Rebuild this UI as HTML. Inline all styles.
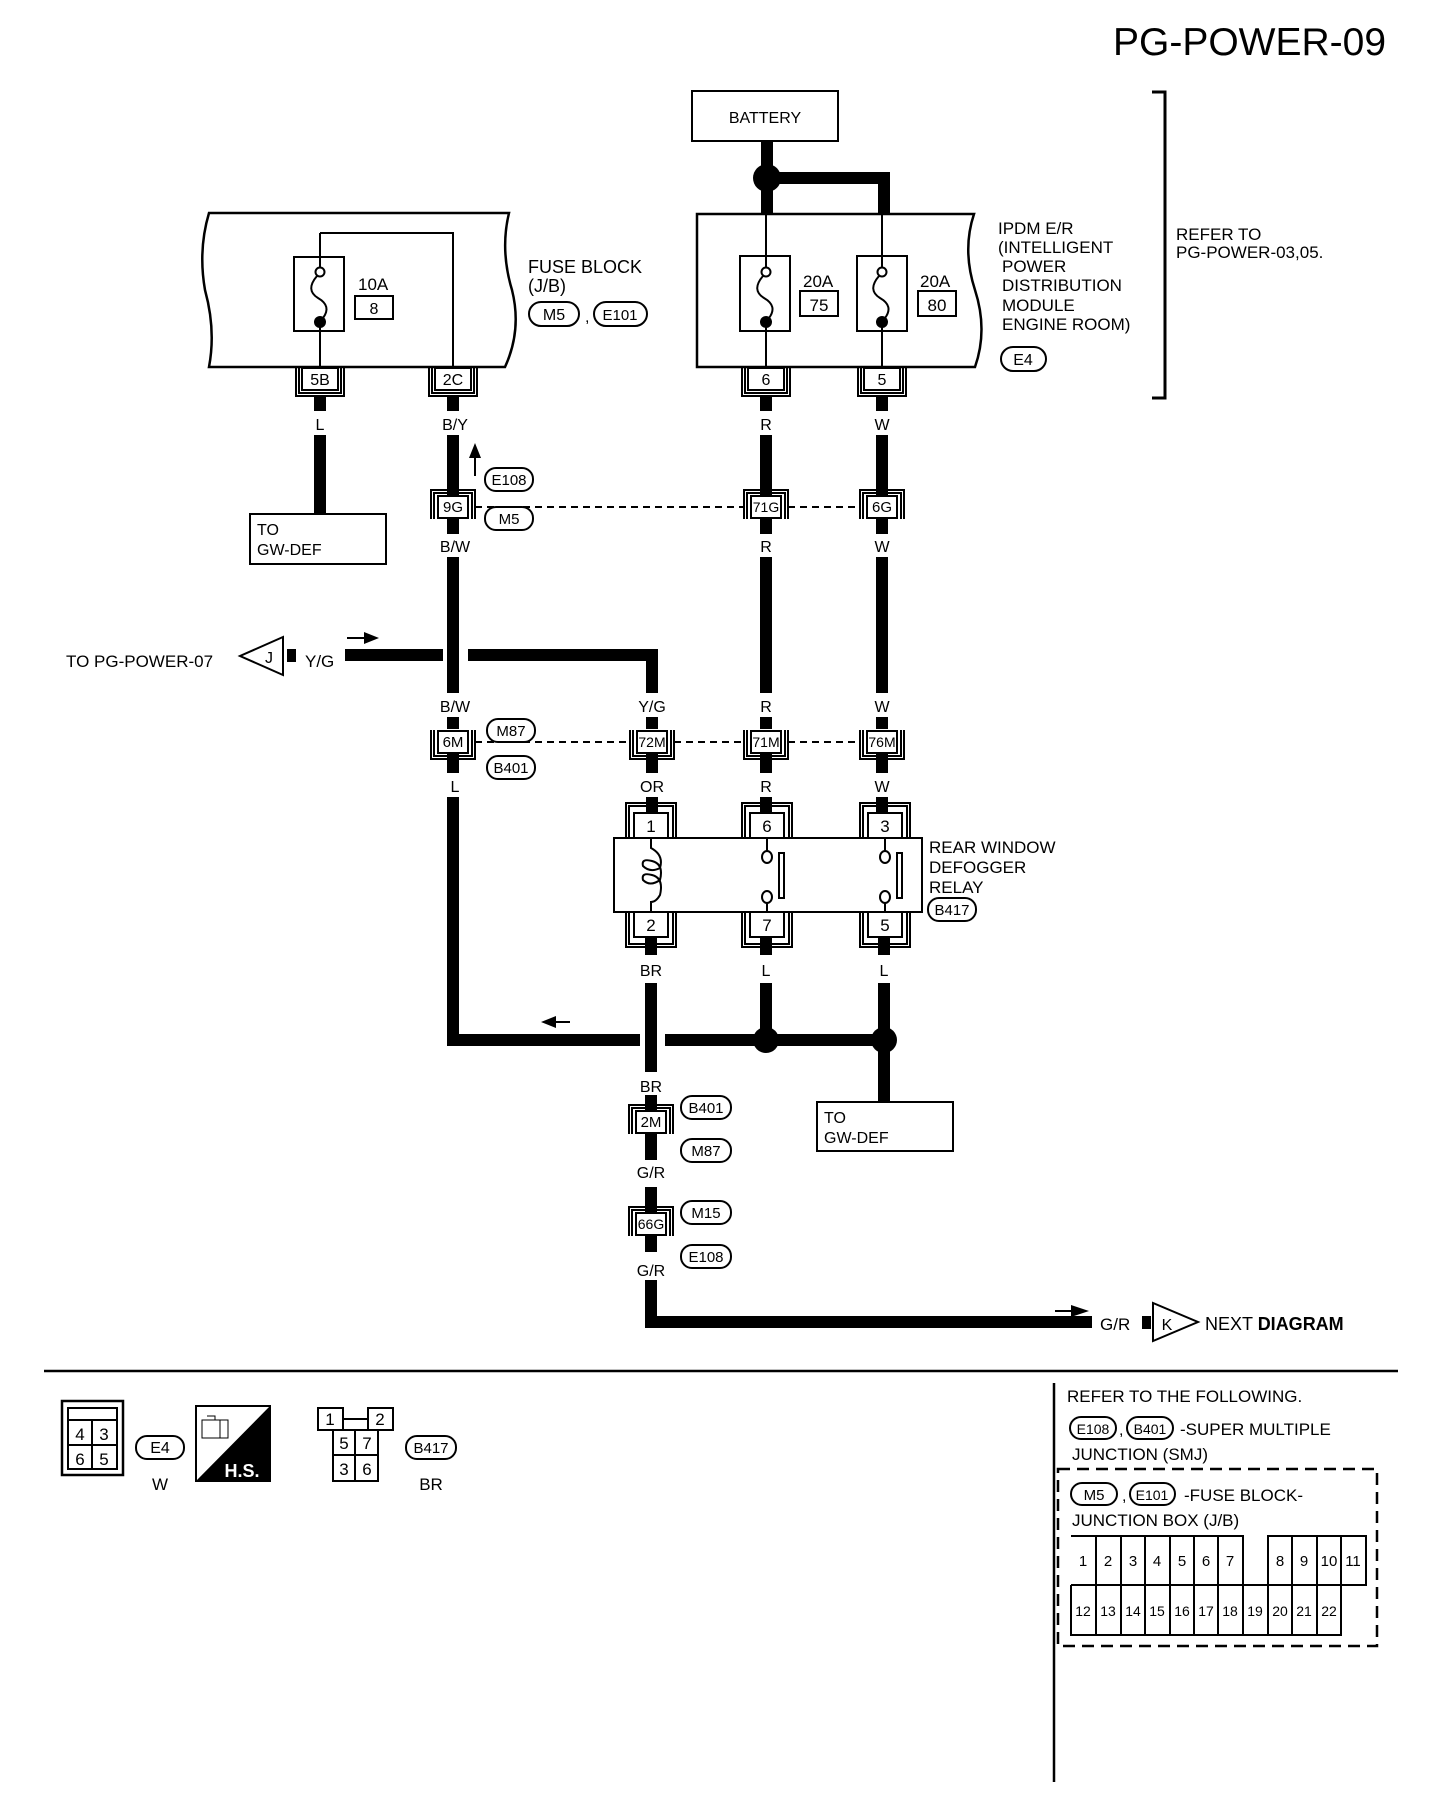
<!DOCTYPE html>
<html><head><meta charset="utf-8"><style>
html,body{margin:0;padding:0;background:#fff;}
svg{display:block;font-family:"Liberation Sans",sans-serif;}
text{fill:#000;}
</style></head><body>
<svg width="1440" height="1800" viewBox="0 0 1440 1800" xmlns="http://www.w3.org/2000/svg">
<text x="1113" y="55" font-size="39">PG-POWER-09</text>

<!-- bracket refer -->
<path d="M1152,92 H1165 V398 H1152" fill="none" stroke="#000" stroke-width="3"/>
<text x="1176" y="240" font-size="17">REFER TO</text>
<text x="1176" y="258" font-size="17">PG-POWER-03,05.</text>

<!-- FUSE BLOCK -->
<path d="M209,213 H509 Q500,250 512,290 Q522,330 505,367 H209 Q216,330 205,290 Q198,250 209,213 Z" fill="none" stroke="#000" stroke-width="2.5"/>
<rect x="294" y="257" width="50" height="74" fill="none" stroke="#000" stroke-width="2"/>
<path d="M320,233 H453 V367 M320,233 V268 M320,320 V367" fill="none" stroke="#000" stroke-width="2"/>
<circle cx="320" cy="272" r="4.5" fill="#fff" stroke="#000" stroke-width="2"/>
<path d="M317,276 Q305,290 318,298 Q332,306 323,318" fill="none" stroke="#000" stroke-width="2"/>
<circle cx="320" cy="322" r="6" fill="#000"/>
<text x="358" y="290" font-size="17">10A</text>
<rect x="355" y="296" width="38" height="23" fill="none" stroke="#000" stroke-width="2"/>
<text x="374" y="314" font-size="16" text-anchor="middle">8</text>
<text x="528" y="273" font-size="18">FUSE BLOCK</text>
<text x="528" y="292" font-size="18">(J/B)</text>
<rect x="529" y="302" width="50" height="24" rx="12" fill="none" stroke="#000" stroke-width="2"/>
<text x="554" y="320" font-size="16" text-anchor="middle">M5</text>
<text x="585" y="322" font-size="16">,</text>
<rect x="594" y="302" width="53" height="24" rx="12" fill="none" stroke="#000" stroke-width="2"/>
<text x="620" y="320" font-size="15" text-anchor="middle">E101</text>

<!-- IPDM -->
<rect x="692" y="91" width="146" height="50" fill="none" stroke="#000" stroke-width="2"/>
<text x="765" y="123" font-size="16" text-anchor="middle">BATTERY</text>
<path d="M767,141 V214 M767,178 H884 V214" fill="none" stroke="#000" stroke-width="12"/>
<circle cx="767" cy="178" r="14" fill="#000"/>
<path d="M697,214 H974 Q962,250 975,290 Q988,330 975,367 H697 Z" fill="none" stroke="#000" stroke-width="2.5"/>
<g stroke="#000" stroke-width="2" fill="none">
<rect x="740" y="256" width="50" height="75"/>
<rect x="857" y="256" width="50" height="75"/>
<path d="M766,214 V268 M766,320 V367 M882,214 V268 M882,320 V367"/>
<path d="M763,276 Q751,290 764,298 Q778,306 769,318"/>
<path d="M879,276 Q867,290 880,298 Q894,306 885,318"/>
<rect x="800" y="291" width="38" height="25"/>
<rect x="918" y="291" width="38" height="25"/>
</g>
<circle cx="766" cy="272" r="4.5" fill="#fff" stroke="#000" stroke-width="2"/>
<circle cx="882" cy="272" r="4.5" fill="#fff" stroke="#000" stroke-width="2"/>
<circle cx="766" cy="322" r="6" fill="#000"/>
<circle cx="882" cy="322" r="6" fill="#000"/>
<text x="803" y="287" font-size="17">20A</text>
<text x="920" y="287" font-size="17">20A</text>
<text x="819" y="311" font-size="17" text-anchor="middle">75</text>
<text x="937" y="311" font-size="17" text-anchor="middle">80</text>
<g font-size="17">
<text x="998" y="234">IPDM E/R</text>
<text x="998" y="253">(INTELLIGENT</text>
<text x="1002" y="272">POWER</text>
<text x="1002" y="291">DISTRIBUTION</text>
<text x="1002" y="311">MODULE</text>
<text x="1002" y="330">ENGINE ROOM)</text>
</g>
<rect x="1001" y="347" width="45" height="24" rx="12" fill="none" stroke="#000" stroke-width="2"/>
<text x="1023" y="365" font-size="16" text-anchor="middle">E4</text>

<!-- block-bottom connectors -->
<g stroke="#000" stroke-width="2" fill="none">
<g transform="translate(320,367)"><rect x="-18" y="1" width="36" height="22"/><path d="M-24,0 V29 H24 V0 M-21,0 V26 H21 V0"/></g>
<g transform="translate(453,367)"><rect x="-18" y="1" width="36" height="22"/><path d="M-24,0 V29 H24 V0 M-21,0 V26 H21 V0"/></g>
<g transform="translate(766,367)"><rect x="-18" y="1" width="36" height="22"/><path d="M-24,0 V29 H24 V0 M-21,0 V26 H21 V0"/></g>
<g transform="translate(882,367)"><rect x="-18" y="1" width="36" height="22"/><path d="M-24,0 V29 H24 V0 M-21,0 V26 H21 V0"/></g>
</g>
<g font-size="16" text-anchor="middle">
<text x="320" y="385">5B</text><text x="453" y="385">2C</text><text x="766" y="385">6</text><text x="882" y="385">5</text>
</g>

<!-- wires -->
<g stroke="#000" stroke-width="12" fill="none">
<path d="M320,396 V411 M320,435 V514"/>
<path d="M453,396 V411 M453,435 V496 M453,518 V534 M453,557 V693 M453,717 V729 M453,752 V773 M453,797 V1040 H640 M665,1040 H885"/>
<path d="M766,396 V411 M766,435 V496 M766,518 V534 M766,557 V693 M766,717 V729 M766,752 V773 M766,797 V813"/>
<path d="M882,396 V411 M882,435 V496 M882,518 V534 M882,557 V693 M882,717 V729 M882,752 V773 M882,797 V813"/>
<path d="M345,655 H443 M468,655 H652 V693 M652,717 V729 M652,752 V773 M652,797 V813"/>
<path d="M651,937 V955 M651,983 V1072 M651,1095 V1110 M651,1133 V1160 M651,1187 V1212 M651,1235 V1252 M651,1280 V1322 H1092"/>
<path d="M766,937 V955 M766,983 V1030"/>
<path d="M884,937 V955 M884,983 V1030 M884,1050 V1102"/>
</g>
<circle cx="766" cy="1040" r="13" fill="#000"/>
<circle cx="884" cy="1040" r="13" fill="#000"/>
<rect x="287" y="649" width="9" height="13" fill="#000"/>

<rect x="250" y="514" width="136" height="50" fill="none" stroke="#000" stroke-width="2"/>
<text x="257" y="535" font-size="16">TO</text><text x="257" y="555" font-size="16">GW-DEF</text>
<rect x="817" y="1102" width="136" height="49" fill="none" stroke="#000" stroke-width="2"/>
<text x="824" y="1123" font-size="16">TO</text><text x="824" y="1143" font-size="16">GW-DEF</text>

<!-- wire labels -->
<g font-size="16" text-anchor="middle">
<text x="320" y="430">L</text><text x="455" y="430">B/Y</text><text x="766" y="430">R</text><text x="882" y="430">W</text>
<text x="455" y="552">B/W</text><text x="766" y="552">R</text><text x="882" y="552">W</text>
<text x="455" y="712">B/W</text><text x="652" y="712">Y/G</text><text x="766" y="712">R</text><text x="882" y="712">W</text>
<text x="455" y="792">L</text><text x="652" y="792">OR</text><text x="766" y="792">R</text><text x="882" y="792">W</text>
<text x="651" y="976">BR</text><text x="766" y="976">L</text><text x="884" y="976">L</text>
<text x="651" y="1092">BR</text><text x="651" y="1178">G/R</text><text x="651" y="1276">G/R</text>
</g>

<!-- inline connectors -->
<g stroke="#000" stroke-width="2" fill="#fff">
<g transform="translate(453,507)"><rect x="-15" y="-11" width="30" height="22"/><path fill="none" d="M-22,12 V-17 H22 V12 M-19,12 V-14 H19 V12"/></g>
<g transform="translate(766,507)"><rect x="-15" y="-11" width="30" height="22"/><path fill="none" d="M-22,12 V-17 H22 V12 M-19,12 V-14 H19 V12"/></g>
<g transform="translate(882,507)"><rect x="-15" y="-11" width="30" height="22"/><path fill="none" d="M-22,12 V-17 H22 V12 M-19,12 V-14 H19 V12"/></g>
<g transform="translate(453,742)"><rect x="-15" y="-11" width="30" height="22"/><path fill="none" d="M-22,-12 V17 H22 V-12 M-19,-12 V14 H19 V-12"/></g>
<g transform="translate(652,742)"><rect x="-15" y="-11" width="30" height="22"/><path fill="none" d="M-22,-12 V17 H22 V-12 M-19,-12 V14 H19 V-12"/></g>
<g transform="translate(766,742)"><rect x="-15" y="-11" width="30" height="22"/><path fill="none" d="M-22,-12 V17 H22 V-12 M-19,-12 V14 H19 V-12"/></g>
<g transform="translate(882,742)"><rect x="-15" y="-11" width="30" height="22"/><path fill="none" d="M-22,-12 V17 H22 V-12 M-19,-12 V14 H19 V-12"/></g>
<g transform="translate(651,1122)"><rect x="-15" y="-11" width="30" height="22"/><path fill="none" d="M-22,12 V-17 H22 V12 M-19,12 V-14 H19 V12"/></g>
<g transform="translate(651,1224)"><rect x="-15" y="-11" width="30" height="22"/><path fill="none" d="M-22,12 V-17 H22 V12 M-19,12 V-14 H19 V12"/></g>
</g>
<g font-size="15" text-anchor="middle">
<text x="453" y="512">9G</text><text x="766" y="512" font-size="14">71G</text><text x="882" y="512">6G</text>
<text x="453" y="747">6M</text><text x="652" y="747" font-size="14">72M</text><text x="766" y="747" font-size="14">71M</text><text x="882" y="747" font-size="14">76M</text>
<text x="651" y="1127">2M</text><text x="651" y="1229" font-size="14">66G</text>
</g>
<path d="M475,507 H744 M788,507 H860 M475,742 H630 M674,742 H744 M788,742 H860" stroke="#000" stroke-width="2" stroke-dasharray="7,5" fill="none"/>

<!-- ovals -->
<g stroke="#000" stroke-width="2" fill="none">
<rect x="485" y="468" width="48" height="23" rx="11"/>
<rect x="485" y="507" width="48" height="23" rx="11"/>
<rect x="487" y="719" width="48" height="23" rx="11"/>
<rect x="487" y="756" width="48" height="23" rx="11"/>
<rect x="681" y="1096" width="50" height="23" rx="11"/>
<rect x="681" y="1139" width="50" height="23" rx="11"/>
<rect x="681" y="1201" width="50" height="23" rx="11"/>
<rect x="681" y="1245" width="50" height="23" rx="11"/>
<rect x="928" y="898" width="48" height="23" rx="11"/>
</g>
<g font-size="15" text-anchor="middle">
<text x="509" y="485">E108</text><text x="509" y="524">M5</text>
<text x="511" y="736">M87</text><text x="511" y="773">B401</text>
<text x="706" y="1113">B401</text><text x="706" y="1156">M87</text>
<text x="706" y="1218">M15</text><text x="706" y="1262">E108</text>
<text x="952" y="915">B417</text>
</g>

<!-- arrows -->
<path d="M475,476 V455" stroke="#000" stroke-width="2"/><path d="M469,458 L475,443 L481,458 Z"/>
<path d="M347,638 H366" stroke="#000" stroke-width="2"/><path d="M364,632 L379,638 L364,644 Z"/>
<path d="M570,1022 H553" stroke="#000" stroke-width="2"/><path d="M556,1016 L541,1022 L556,1028 Z"/>
<path d="M1055,1311 H1074" stroke="#000" stroke-width="2"/><path d="M1071,1305 L1089,1311 L1071,1317 Z"/>

<!-- J connector -->
<text x="66" y="667" font-size="17">TO PG-POWER-07</text>
<path d="M283,637 V675 L240,656 Z" fill="#fff" stroke="#000" stroke-width="2"/>
<text x="269" y="663" font-size="16" text-anchor="middle">J</text>
<text x="305" y="667" font-size="17">Y/G</text>

<!-- K -->
<text x="1100" y="1330" font-size="17">G/R</text>
<rect x="1142" y="1316" width="9" height="13" fill="#000"/>
<path d="M1153,1303 V1341 L1198,1322 Z" fill="#fff" stroke="#000" stroke-width="2"/>
<text x="1167" y="1330" font-size="16" text-anchor="middle">K</text>
<text x="1205" y="1330" font-size="18">NEXT <tspan font-weight="bold">DIAGRAM</tspan></text>

<!-- relay -->
<rect x="614" y="838" width="308" height="74" fill="none" stroke="#000" stroke-width="2"/>
<g stroke="#000" stroke-width="2" fill="#fff">
<g transform="translate(651,813)"><rect x="-17" y="0" width="34" height="25"/><path fill="none" d="M-25,25 V-10 H25 V25 M-22,25 V-7 H22 V25"/></g>
<g transform="translate(767,813)"><rect x="-17" y="0" width="34" height="25"/><path fill="none" d="M-25,25 V-10 H25 V25 M-22,25 V-7 H22 V25"/></g>
<g transform="translate(885,813)"><rect x="-17" y="0" width="34" height="25"/><path fill="none" d="M-25,25 V-10 H25 V25 M-22,25 V-7 H22 V25"/></g>
<g transform="translate(651,912)"><rect x="-17" y="0" width="34" height="25"/><path fill="none" d="M-25,0 V35 H25 V0 M-22,0 V32 H22 V0"/></g>
<g transform="translate(767,912)"><rect x="-17" y="0" width="34" height="25"/><path fill="none" d="M-25,0 V35 H25 V0 M-22,0 V32 H22 V0"/></g>
<g transform="translate(885,912)"><rect x="-17" y="0" width="34" height="25"/><path fill="none" d="M-25,0 V35 H25 V0 M-22,0 V32 H22 V0"/></g>
</g>
<g font-size="17" text-anchor="middle">
<text x="651" y="832">1</text><text x="767" y="832">6</text><text x="885" y="832">3</text>
<text x="651" y="931">2</text><text x="767" y="931">7</text><text x="885" y="931">5</text>
</g>
<g stroke="#000" stroke-width="2" fill="none">
<path d="M651,838 V848 Q664,855 660,868 Q650,873 643,866 Q641,858 652,861 Q664,864 660,880 Q650,887 643,880 Q641,872 652,875 Q664,878 660,895 Q656,902 651,902 V912"/>
<path d="M767,838 V851 M767,903 V912 M885,838 V851 M885,903 V912"/>
<rect x="779" y="853" width="5" height="45"/>
<rect x="897" y="853" width="5" height="45"/>
</g>
<g fill="#fff" stroke="#000" stroke-width="2">
<ellipse cx="767" cy="857" rx="5" ry="6"/><ellipse cx="767" cy="897" rx="5" ry="6"/>
<ellipse cx="885" cy="857" rx="5" ry="6"/><ellipse cx="885" cy="897" rx="5" ry="6"/>
</g>
<g font-size="17">
<text x="929" y="853">REAR WINDOW</text>
<text x="929" y="873">DEFOGGER</text>
<text x="929" y="893">RELAY</text>
</g>

<!-- bottom separator -->
<path d="M44,1371 H1398" stroke="#000" stroke-width="2.5"/>
<path d="M1054,1383 V1782" stroke="#000" stroke-width="2.5"/>

<!-- legend E4 -->
<rect x="62" y="1401" width="61" height="74" fill="none" stroke="#000" stroke-width="2.5"/>
<g fill="none" stroke="#000" stroke-width="2">
<rect x="68" y="1408" width="49" height="61"/>
<path d="M68,1420 H117 M68,1445 H117 M92,1420 V1469"/>
</g>
<g font-size="17" text-anchor="middle"><text x="80" y="1440">4</text><text x="104" y="1440">3</text><text x="80" y="1465">6</text><text x="104" y="1465">5</text></g>
<rect x="136" y="1436" width="48" height="23" rx="11" fill="none" stroke="#000" stroke-width="2"/>
<text x="160" y="1453" font-size="16" text-anchor="middle">E4</text>
<text x="160" y="1490" font-size="17" text-anchor="middle">W</text>
<rect x="196" y="1406" width="74" height="75" fill="none" stroke="#000" stroke-width="2"/>
<path d="M270,1406 V1481 H196 Z" fill="#000"/>
<path d="M202,1420 h18 v18 h-18 z M207,1416 h8 v4 M220,1420 h8 v18 h-8" fill="none" stroke="#000" stroke-width="1"/>
<text x="242" y="1477" font-size="18" font-weight="bold" text-anchor="middle" style="fill:#fff">H.S.</text>
<!-- B417 -->
<g fill="none" stroke="#000" stroke-width="2">
<rect x="318" y="1408" width="25" height="22"/><rect x="368" y="1408" width="25" height="22"/>
<path d="M343,1419 H368"/>
<rect x="333" y="1430" width="45" height="51"/><path d="M333,1455 H378 M355,1430 V1481"/>
</g>
<g font-size="17" text-anchor="middle"><text x="330" y="1425">1</text><text x="380" y="1425">2</text>
<text x="344" y="1449">5</text><text x="367" y="1449">7</text><text x="344" y="1475">3</text><text x="367" y="1475">6</text></g>
<rect x="406" y="1436" width="50" height="23" rx="11" fill="none" stroke="#000" stroke-width="2"/>
<text x="431" y="1453" font-size="15" text-anchor="middle">B417</text>
<text x="431" y="1490" font-size="17" text-anchor="middle">BR</text>

<!-- refer list -->
<text x="1067" y="1402" font-size="17">REFER TO THE FOLLOWING.</text>
<rect x="1070" y="1417" width="46" height="22" rx="11" fill="none" stroke="#000" stroke-width="2"/>
<text x="1093" y="1434" font-size="14" text-anchor="middle">E108</text>
<text x="1119" y="1435" font-size="16">,</text>
<rect x="1127" y="1417" width="46" height="22" rx="11" fill="none" stroke="#000" stroke-width="2"/>
<text x="1150" y="1434" font-size="14" text-anchor="middle">B401</text>
<text x="1180" y="1435" font-size="17">-SUPER MULTIPLE</text>
<text x="1072" y="1460" font-size="17">JUNCTION (SMJ)</text>
<rect x="1058" y="1469" width="319" height="177" fill="none" stroke="#000" stroke-width="2.5" stroke-dasharray="12,7"/>
<rect x="1071" y="1483" width="46" height="22" rx="11" fill="none" stroke="#000" stroke-width="2"/>
<text x="1094" y="1500" font-size="15" text-anchor="middle">M5</text>
<text x="1122" y="1501" font-size="16">,</text>
<rect x="1130" y="1483" width="45" height="22" rx="11" fill="none" stroke="#000" stroke-width="2"/>
<text x="1152" y="1500" font-size="14" text-anchor="middle">E101</text>
<text x="1184" y="1501" font-size="17">-FUSE BLOCK-</text>
<text x="1072" y="1526" font-size="17">JUNCTION BOX (J/B)</text>
<g fill="none" stroke="#000" stroke-width="2">
<path d="M1071,1536 H1243 V1585 M1268,1585 V1536 H1366 V1585 H1071 Z M1071,1585 V1635 H1341 V1585"/>
<path d="M1096,1536 V1635 M1121,1536 V1635 M1145,1536 V1635 M1170,1536 V1635 M1194,1536 V1635 M1218,1536 V1635 M1243,1585 V1635 M1268,1585 V1635 M1292,1536 V1635 M1317,1536 V1635 M1341,1536 V1585"/>
</g>
<g font-size="15" text-anchor="middle">
<text x="1083" y="1566">1</text><text x="1108" y="1566">2</text><text x="1133" y="1566">3</text><text x="1157" y="1566">4</text><text x="1182" y="1566">5</text><text x="1206" y="1566">6</text><text x="1230" y="1566">7</text>
<text x="1280" y="1566">8</text><text x="1304" y="1566">9</text><text x="1329" y="1566">10</text><text x="1353" y="1566">11</text>
</g>
<g font-size="14" text-anchor="middle">
<text x="1083" y="1616">12</text><text x="1108" y="1616">13</text><text x="1133" y="1616">14</text><text x="1157" y="1616">15</text><text x="1182" y="1616">16</text><text x="1206" y="1616">17</text><text x="1230" y="1616">18</text><text x="1255" y="1616">19</text><text x="1280" y="1616">20</text><text x="1304" y="1616">21</text><text x="1329" y="1616">22</text>
</g>
</svg>
</body></html>
